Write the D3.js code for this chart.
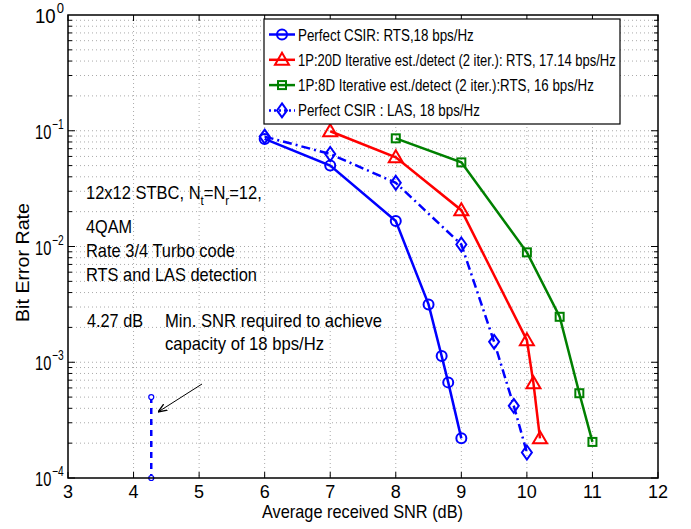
<!DOCTYPE html>
<html>
<head>
<meta charset="utf-8">
<script src="https://cdn.jsdelivr.net/npm/d3@7"></script>
<style>
  body { margin: 0; background: #fff; }
  text { font-family: "Liberation Sans", Arial, sans-serif; }
</style>
</head>
<body>
<div id="chart"></div>
<script>
// data
var snrCsirRts = [6, 7, 8, 8.5, 8.7, 8.8, 9];
var berCsirRts = [0.085, 0.05, 0.0166, 0.00316, 0.00113, 0.00067, 0.00022];

var snr20D = [7, 8, 9, 10, 10.1, 10.2];
var ber20D = [0.099, 0.059, 0.0206, 0.00155, 0.00066, 0.00022];

var snr8D = [8, 9, 10, 10.5, 10.8, 11];
var ber8D = [0.086, 0.0533, 0.0089, 0.00247, 0.00054, 0.000205];

var snrLas = [6, 7, 8, 9, 9.5, 9.8, 10];
var berLas = [0.089, 0.063, 0.0355, 0.0104, 0.0015, 0.00042, 0.000166];

var snrCap = [4.27, 4.27];
var berCap = [0.0005, 0.0001];

var xTicks = [3, 4, 5, 6, 7, 8, 9, 10, 11, 12];
var yExps = [0, -1, -2, -3, -4];

var legendLabels = [
  'Perfect CSIR: RTS,18 bps/Hz',
  '1P:20D Iterative est./detect (2 iter.): RTS, 17.14 bps/Hz',
  '1P:8D Iterative est./detect (2 iter.):RTS, 16 bps/Hz',
  'Perfect CSIR : LAS, 18 bps/Hz'
];
var legendWidths = [176, 318, 296, 182];

var width = 691, height = 529;
var margin = {left: 68, right: 33, top: 15, bottom: 51};

var svg = d3.select('#chart').append('svg')
  .attr('width', width)
  .attr('height', height);

var x = d3.scaleLinear().domain([3, 12]).range([margin.left, width - margin.right]);
var y = d3.scaleLog().domain([1e-4, 1]).range([height - margin.bottom, margin.top]);

// squeeze text horizontally like the original figure
function squeeze(sel, len) {
  return sel.attr('textLength', len).attr('lengthAdjust', 'spacingAndGlyphs');
}

// squeeze a whole text (with tspans) by scaling its group
function squeezeGroup(parent, tx, ty, len, build) {
  var g = parent.append('g');
  var t = g.append('text').attr('x', 0).attr('y', 0);
  build(t);
  var w = t.node().getComputedTextLength() || len;
  g.attr('transform', 'translate(' + tx + ',' + ty + ') scale(' + (len / w) + ',1)');
  return g;
}

// grid lines (dotted)
var grid = svg.append('g');
xTicks.slice(1, -1).forEach(function(t){
  grid.append('line')
    .attr('x1', x(t)).attr('x2', x(t))
    .attr('y1', y(1)).attr('y2', y(1e-4))
    .attr('stroke', '#aaa').attr('stroke-width', 1).attr('stroke-dasharray', '1,3');
});
var minorY = [];
for (var e = -4; e < 0; e++) {
  for (var m = 1; m < 10; m++) {
    minorY.push(m * Math.pow(10, e));
  }
}
minorY.forEach(function(v){
  if (v <= 1e-4) return;
  grid.append('line')
    .attr('x1', x(3)).attr('x2', x(12))
    .attr('y1', y(v)).attr('y2', y(v))
    .attr('stroke', '#aaa').attr('stroke-width', 1).attr('stroke-dasharray', '1,3');
});

// ticks inside the box
var ticks = svg.append('g').attr('stroke', '#000').attr('stroke-width', 1);
xTicks.forEach(function(t){
  ticks.append('line').attr('x1', x(t)).attr('x2', x(t)).attr('y1', y(1e-4)).attr('y2', y(1e-4) - 6);
  ticks.append('line').attr('x1', x(t)).attr('x2', x(t)).attr('y1', y(1)).attr('y2', y(1) + 6);
});
minorY.forEach(function(v){
  var len = (Math.abs(Math.log10(v) - Math.round(Math.log10(v))) < 1e-9) ? 7 : 4;
  ticks.append('line').attr('x1', x(3)).attr('x2', x(3) + len).attr('y1', y(v)).attr('y2', y(v));
  ticks.append('line').attr('x1', x(12)).attr('x2', x(12) - len).attr('y1', y(v)).attr('y2', y(v));
});

// tick labels
xTicks.forEach(function(t){
  svg.append('text')
    .attr('x', x(t)).attr('y', y(1e-4) + 20)
    .attr('text-anchor', 'middle')
    .attr('font-size', 18)
    .text(t);
});
yExps.forEach(function(p){
  squeezeGroup(svg, 35, y(Math.pow(10, p)) + 8, 28, function(t){
    t.attr('font-size', 20);
    t.append('tspan').text('10');
    t.append('tspan').attr('font-size', 14).attr('dx', 1).attr('dy', -10)
      .text(p === 0 ? '0' : '\u2212' + (-p));
  });
});

// axis titles
squeeze(svg.append('text')
  .attr('x', 262).attr('y', 518)
  .attr('font-size', 19)
  .text('Average received SNR (dB)'), 201);
squeeze(svg.append('text')
  .attr('transform', 'translate(29,322) rotate(-90)')
  .attr('font-size', 19)
  .text('Bit Error Rate'), 119);

// series
var line = d3.line()
  .x(function(d){ return x(d[0]); })
  .y(function(d){ return y(d[1]); });

function zip(a, b) {
  return a.map(function(v, i){ return [v, b[i]]; });
}

var series = [
  {xs: snrCsirRts, ys: berCsirRts, color: '#0000ff', dash: null, marker: 'circle'},
  {xs: snr20D, ys: ber20D, color: '#ff0000', dash: null, marker: 'triangle'},
  {xs: snr8D, ys: ber8D, color: '#008000', dash: null, marker: 'square'},
  {xs: snrLas, ys: berLas, color: '#0000ff', dash: '9,4,2,4', marker: 'diamond'}
];

function drawMarker(g, type, cx, cy, color) {
  if (type === 'circle') {
    g.append('circle').attr('cx', cx).attr('cy', cy).attr('r', 5)
      .attr('fill', 'none').attr('stroke', color).attr('stroke-width', 2);
  } else if (type === 'triangle') {
    g.append('path')
      .attr('d', 'M' + cx + ',' + (cy - 7) + 'L' + (cx + 7) + ',' + (cy + 5) + 'L' + (cx - 7) + ',' + (cy + 5) + 'Z')
      .attr('fill', 'none').attr('stroke', color).attr('stroke-width', 2);
  } else if (type === 'square') {
    g.append('rect').attr('x', cx - 4).attr('y', cy - 4).attr('width', 8).attr('height', 8)
      .attr('fill', 'none').attr('stroke', color).attr('stroke-width', 2);
  } else if (type === 'diamond') {
    g.append('path')
      .attr('d', 'M' + cx + ',' + (cy - 7) + 'L' + (cx + 5) + ',' + cy + 'L' + cx + ',' + (cy + 7) + 'L' + (cx - 5) + ',' + cy + 'Z')
      .attr('fill', 'none').attr('stroke', color).attr('stroke-width', 2);
  }
}

var plot = svg.append('g');
series.forEach(function(s){
  var pts = zip(s.xs, s.ys);
  plot.append('path')
    .datum(pts)
    .attr('d', line)
    .attr('fill', 'none')
    .attr('stroke', s.color)
    .attr('stroke-width', 2.5)
    .attr('stroke-dasharray', s.dash);
  pts.forEach(function(p){
    drawMarker(plot, s.marker, x(p[0]), y(p[1]), s.color);
  });
});

// capacity limit marker
var capPts = zip(snrCap, berCap);
plot.append('path')
  .datum(capPts)
  .attr('d', line)
  .attr('fill', 'none')
  .attr('stroke', '#0000ff')
  .attr('stroke-width', 2.5)
  .attr('stroke-dasharray', '6,5');
capPts.forEach(function(p){
  plot.append('circle').attr('cx', x(p[0])).attr('cy', y(p[1])).attr('r', 2.5)
    .attr('fill', '#fff').attr('stroke', '#0000ff').attr('stroke-width', 1.2);
});

// box
svg.append('rect')
  .attr('x', x(3)).attr('y', y(1))
  .attr('width', x(12) - x(3)).attr('height', y(1e-4) - y(1))
  .attr('fill', 'none').attr('stroke', '#000').attr('stroke-width', 1.5);

// annotations
var notes = svg.append('g').attr('font-size', 18.5).attr('fill', '#000');
squeezeGroup(notes, 86, 199, 176, function(t){
  t.append('tspan').text('12x12 STBC, N');
  t.append('tspan').attr('font-size', 13).attr('dy', 6).text('t');
  t.append('tspan').attr('dy', -6).text('=N');
  t.append('tspan').attr('font-size', 13).attr('dy', 6).text('r');
  t.append('tspan').attr('dy', -6).text('=12,');
});
squeeze(notes.append('text').attr('x', 86).attr('y', 233).text('4QAM'), 46);
squeeze(notes.append('text').attr('x', 86).attr('y', 257).text('Rate 3/4 Turbo code'), 149);
squeeze(notes.append('text').attr('x', 86).attr('y', 281).text('RTS and LAS detection'), 171);
squeeze(notes.append('text').attr('x', 87).attr('y', 327).text('4.27 dB'), 56);
squeeze(notes.append('text').attr('x', 165).attr('y', 327).text('Min. SNR required to achieve'), 217);
squeeze(notes.append('text').attr('x', 165).attr('y', 350).text('capacity of 18 bps/Hz'), 159);

// arrow
svg.append('defs').append('marker')
  .attr('id', 'arrowhead')
  .attr('viewBox', '0 0 10 10')
  .attr('refX', 10).attr('refY', 5)
  .attr('markerWidth', 9).attr('markerHeight', 9)
  .attr('markerUnits', 'userSpaceOnUse')
  .attr('orient', 'auto')
  .append('path').attr('d', 'M0,1L10,5L0,9').attr('fill', 'none').attr('stroke', '#000').attr('stroke-width', 1.5);
svg.append('line')
  .attr('x1', 202).attr('y1', 384).attr('x2', 158).attr('y2', 412)
  .attr('stroke', '#000').attr('stroke-width', 1)
  .attr('marker-end', 'url(#arrowhead)');

// legend
var legend = svg.append('g').attr('transform', 'translate(264,19)');
legend.append('rect')
  .attr('width', 356).attr('height', 105)
  .attr('fill', '#fff').attr('stroke', '#000').attr('stroke-width', 1.2);
series.forEach(function(s, i){
  var cy = 15.5 + i * 25.3;
  legend.append('line')
    .attr('x1', 5).attr('x2', 31).attr('y1', cy).attr('y2', cy)
    .attr('stroke', s.color).attr('stroke-width', 2.5)
    .attr('stroke-dasharray', s.dash ? '2,3' : null);
  drawMarker(legend, s.marker, 18, cy, s.color);
  squeezeGroup(legend, 34, cy + 6, legendWidths[i], function(t){
    t.attr('font-size', 17).text(legendLabels[i]);
  });
});
</script>
</body>
</html>
